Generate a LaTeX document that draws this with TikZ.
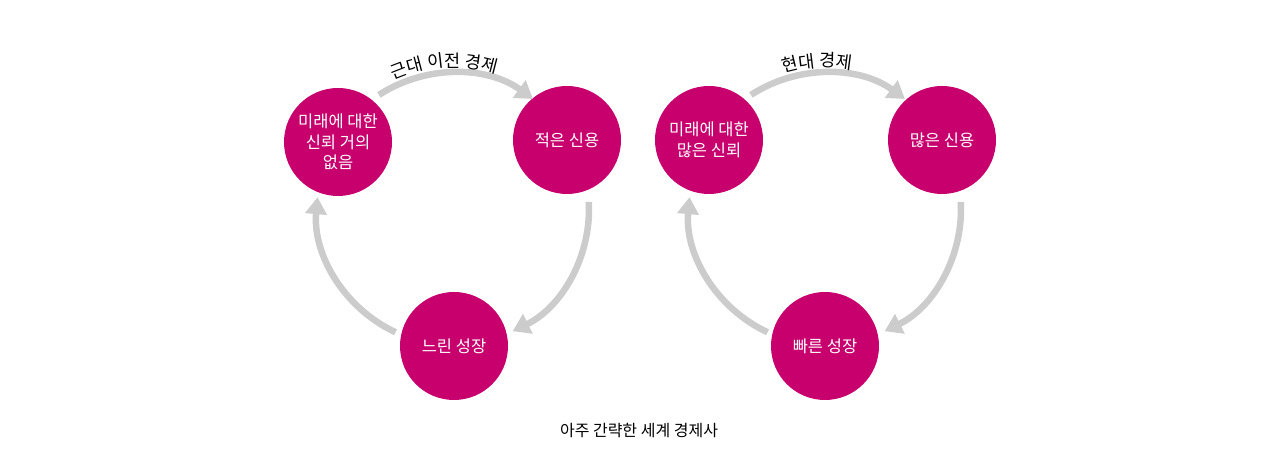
\documentclass[tikz,border=0pt]{standalone}
\usepackage{fontspec}
\setmainfont{Noto Sans CJK KR}
\usetikzlibrary{arrows.meta,calc,decorations.text}
\definecolor{circfill}{RGB}{199,0,110}
\definecolor{arrgray}{RGB}{204,204,204}
\tikzset{
  stage/.style={circle, fill=circfill, draw=none, minimum size=108pt, inner sep=0pt,
    text=white, align=center, font=\fontsize{16.5}{20.5}\selectfont},
  cycarrow/.style={draw=arrgray, line width=6.5pt, -{Triangle[length=17pt,width=21pt]}},
  caption/.style={font=\fontsize{16}{19}\selectfont, text=black},
}
\begin{document}
\begin{tikzpicture}[x=1pt,y=1pt]
\useasboundingbox (0,0) rectangle (1280,470);
% left cycle
\coordinate (o1) at (453,261);
\node[stage] (a1) at (338,328) {미래에 대한\\신뢰 거의\\없음};
\node[stage] (b1) at (567,330) {적은 신용};
\node[stage] (c1) at (454,124) {느린 성장};
\draw[cycarrow] ($(o1)+(123:136)$) arc[start angle=123, end angle=54, radius=136];
\draw[cycarrow] ($(o1)+(3:136)$) arc[start angle=3, end angle=-64, radius=136];
\draw[cycarrow] ($(o1)+(-115:136)$) arc[start angle=-115, end angle=-185, radius=136];
\path[decorate, decoration={text along path, text align=center,
  text={|\fontsize{17.5}{20}\selectfont|근대 이전 경제}}]
  ($(o1)+(124:142)$) arc[start angle=124, end angle=63, radius=142];
% right cycle
\coordinate (o2) at (825,261);
\node[stage] (a2) at (709,330) {미래에 대한\\많은 신뢰};
\node[stage] (b2) at (942,330) {많은 신용};
\node[stage] (c2) at (825,124) {빠른 성장};
\draw[cycarrow] ($(o2)+(123:136)$) arc[start angle=123, end angle=54, radius=136];
\draw[cycarrow] ($(o2)+(3:136)$) arc[start angle=3, end angle=-64, radius=136];
\draw[cycarrow] ($(o2)+(-115:136)$) arc[start angle=-115, end angle=-185, radius=136];
\path[decorate, decoration={text along path, text align=center,
  text={|\fontsize{17.5}{20}\selectfont|현대 경제}}]
  ($(o2)+(123:142)$) arc[start angle=123, end angle=63, radius=142];
% caption
\node[caption] (cap) at (639,39) {아주 간략한 세계 경제사};
\end{tikzpicture}
\end{document}
